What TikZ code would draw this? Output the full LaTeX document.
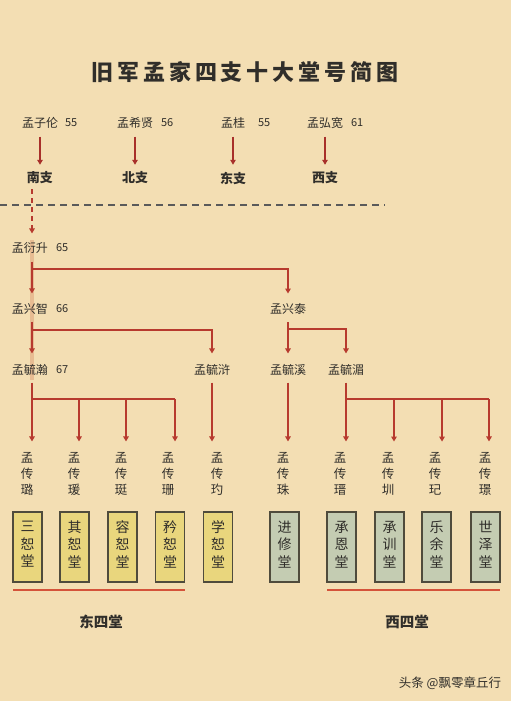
\documentclass[tikz,border=0pt]{standalone}
\usepackage{fontspec}
\setmainfont{Noto Sans CJK SC}
\newfontfamily\titlefont{Noto Sans CJK SC}[LetterSpace=18]
\usetikzlibrary{arrows.meta,calc}
\definecolor{bg}{HTML}{F3DEB3}
\definecolor{txt}{HTML}{302E2A}
\definecolor{lred}{HTML}{B73A2E}
\definecolor{dred}{HTML}{A8302A}
\definecolor{yfill}{HTML}{E9D67D}
\definecolor{gfill}{HTML}{C4CCB2}
\definecolor{bord}{HTML}{4F4B3C}
\definecolor{uline}{HTML}{D4533A}
\definecolor{sepc}{HTML}{5A5A5A}
\definecolor{band}{HTML}{E8BC92}
\begin{document}
\begin{tikzpicture}[x=1pt,y=-1pt,
  every node/.style={inner sep=0pt,outer sep=0pt},
  pname/.style={font=\fontsize{12}{12}\selectfont,text=txt},
  num/.style={font=\fontsize{11}{12}\selectfont,text=txt,anchor=west},
  branch/.style={font=\bfseries\fontsize{13}{13}\selectfont,text=txt},
  arr/.style={draw=lred,line width=2pt,-{Triangle[width=5.5pt,length=5pt]}},
  toparr/.style={draw=dred,line width=1.7pt,-{Triangle[width=5.5pt,length=5pt]},shorten <=8pt,shorten >=7pt},
  conn/.style={draw=lred,line width=2pt},
  vname/.style={font=\fontsize{12.5}{16}\selectfont,text=txt,align=center},
  hall/.style={draw=bord,line width=1.3pt,minimum width=29pt,minimum height=70pt,
    font=\fontsize{14}{17.5}\selectfont,text=txt,align=center,text depth=6pt},
  yhall/.style={hall,fill=yfill},
  ghall/.style={hall,fill=gfill},
  group/.style={font=\bfseries\fontsize{14.5}{15}\selectfont,text=txt},
  ul/.style={draw=uline,line width=2pt}
]
\fill[bg] (0,0) rectangle (511,701);
\useasboundingbox (0,0) rectangle (511,701);

% title
\node[font=\titlefont\bfseries\fontsize{22}{24}\selectfont,text=txt] (title) at (245,72) {旧军孟家四支十大堂号简图};

% top row
\node[pname] (zl) at (40,123) {孟子伦}; \node[num] (n1) at (65,123) {55};
\node[pname] (xx) at (135,123) {孟希贤}; \node[num] (n2) at (161,123) {56};
\node[pname] (gu) at (233,123) {孟桂}; \node[num] (n3) at (258,123) {55};
\node[pname] (hk) at (325,123) {孟弘宽}; \node[num] (n4) at (351,123) {61};

\node[branch] (nan) at (40,178) {南支};
\node[branch] (bei) at (135,178) {北支};
\node[branch] (dong) at (233,178) {东支};
\node[branch] (xi4) at (325,178) {西支};

\draw[toparr] (zl) -- (nan);
\draw[toparr] (xx) -- (bei);
\draw[toparr] (gu) -- (dong);
\draw[toparr] (hk) -- (xi4);

% separator
\coordinate (sl) at (0,205);
\coordinate (sr) at (385,205);
\draw[sepc,line width=1.4pt,dash pattern=on 7pt off 5pt] (sl) -- (sr);

% trunk axis
\coordinate (T) at (32,0);

% faint band behind trunk
\draw[band,line width=4pt] (32,240) -- (32,380);

% generation nodes
\node[pname] (yan) at (30,248) {孟衍升}; \node[num] at (56,248) {65};
\node[pname] (zhi) at (30,309) {孟兴智}; \node[num] at (56,309) {66};
\node[pname] (tai) at (288,309) {孟兴泰};
\node[pname] (han) at (30,370) {孟毓瀚}; \node[num] at (56,370) {67};
\node[pname] (hu) at (212,370) {孟毓浒};
\node[pname] (xi) at (288,370) {孟毓溪};
\node[pname] (mei) at (346,370) {孟毓湄};

% dashed link from 南支
\draw[arr,dash pattern=on 5pt off 4pt,line width=1.4pt,shorten <=5pt,shorten >=9pt] (nan.south -| T) -- (yan.north -| T);

% 孟衍升
\draw[arr,shorten <=8pt,shorten >=10pt] (yan.south -| T) -- (zhi.north -| T);
\draw[arr,shorten >=10pt] ($(yan.south -| T)+(0,15)$) -| (tai.north);

% 孟兴智
\draw[arr,shorten <=7pt,shorten >=11pt] (zhi.south -| T) -- (han.north -| T);
\draw[arr,shorten >=11pt] ($(zhi.south -| T)+(0,15)$) -| (hu.north);

% 孟兴泰
\draw[arr,shorten <=8pt,shorten >=11pt] (tai) -- (xi);
\draw[arr,shorten >=11pt] ($(tai.south)+(0,15)$) -| (mei.north);

% 传 generation
\node[vname] (c1) at (27,474) {孟\\传\\璐};
\node[vname] (c2) at (74,474) {孟\\传\\瑗};
\node[vname] (c3) at (121,474) {孟\\传\\珽};
\node[vname] (c4) at (168,474) {孟\\传\\珊};
\node[vname] (c5) at (217,474) {孟\\传\\玓};
\node[vname] (c6) at (283,474) {孟\\传\\珠};
\node[vname] (c7) at (340,474) {孟\\传\\瑨};
\node[vname] (c8) at (388,474) {孟\\传\\圳};
\node[vname] (c9) at (435,474) {孟\\传\\玘};
\node[vname] (c10) at (485,474) {孟\\传\\璟};

% 孟毓瀚 bar
\coordinate (a1) at (32,399);
\coordinate (a2) at (79,399);
\coordinate (a3) at (126,399);
\coordinate (a4) at (175,399);
\draw[arr,line width=2.4pt,shorten <=7pt,shorten >=11pt] (han.south -| a1) -- (c1.north -| a1);
\draw[conn,line width=2.8pt] (a1) -- (a4);
\draw[arr,shorten >=11pt] (a2) -- (c2.north -| a2);
\draw[arr,shorten >=11pt] (a3) -- (c3.north -| a3);
\draw[arr,line width=2.6pt,shorten >=11pt] (a4) -- (c4.north -| a4);

% 孟毓浒, 孟毓溪
\draw[arr,shorten <=7pt,shorten >=11pt] (hu.south) -- (hu |- c5.north);
\draw[arr,shorten <=7pt,shorten >=11pt] (xi.south) -- (xi |- c6.north);

% 孟毓湄 bar
\coordinate (b1) at (346,399);
\coordinate (b2) at (394,399);
\coordinate (b3) at (442,399);
\coordinate (b4) at (489,399);
\draw[arr,shorten <=7pt,shorten >=11pt] (mei.south) -- (mei |- c7.north);
\draw[conn] (b1) -- (b4);
\draw[arr,shorten >=11pt] (b2) -- (c8.north -| b2);
\draw[arr,shorten >=11pt] (b3) -- (c9.north -| b3);
\draw[arr,shorten >=11pt] (b4) -- (c10.north -| b4);

% halls
\node[yhall] (h1) at (27.5,547) {三\\恕\\堂};
\node[yhall] (h2) at (74.5,547) {其\\恕\\堂};
\node[yhall] (h3) at (122.5,547) {容\\恕\\堂};
\node[yhall] (h4) at (170,547) {矜\\恕\\堂};
\node[yhall] (h5) at (218,547) {学\\恕\\堂};
\node[ghall] (h6) at (284.5,547) {进\\修\\堂};
\node[ghall] (h7) at (341.5,547) {承\\恩\\堂};
\node[ghall] (h8) at (389.5,547) {承\\训\\堂};
\node[ghall] (h9) at (436.5,547) {乐\\余\\堂};
\node[ghall] (h10) at (485.5,547) {世\\泽\\堂};

% underlines
\draw[ul] ($(h1.south west)+(0,8)$) -- ($(h4.south east)+(0,8)$);
\draw[ul] ($(h7.south west)+(0,8)$) -- ($(h10.south east)+(0,8)$);

\node[group] (east) at (101,622) {东四堂};
\node[group] (west) at (407,622) {西四堂};

% watermark
\node[font=\fontsize{12.5}{13}\selectfont,text=txt,anchor=east] (wm) at (501,683) {头条 @飘零章丘行};
\end{tikzpicture}
\end{document}
